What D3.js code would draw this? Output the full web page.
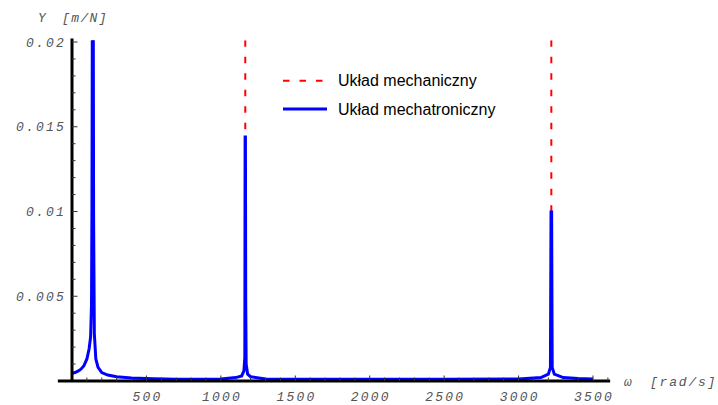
<!DOCTYPE html>
<html>
<head>
<meta charset="utf-8">
<script src="https://cdn.jsdelivr.net/npm/d3@7"></script>
<style>
  body { margin: 0; background: #fff; }
  svg { display: block; }
</style>
</head>
<body>
<div id="chart"></div>
<script>
const width = 718;
const height = 405;

// frequency axis values [rad/s]
const omega = [0, 20, 40, 60, 80, 100, 115, 125, 131, 134, 138.5, 141.5, 145, 150, 160, 175, 200, 240, 300, 400, 550, 700, 850, 1000,
  1100, 1140, 1155, 1161, 1163, 1165, 1167, 1170, 1180, 1200, 1300, 1500, 2000, 2500, 3000,
  3150, 3200, 3214, 3218, 3222, 3226, 3240, 3300, 3400, 3500];
// mechatronic system receptance Y [m/N]
const yMechatronic = [0.00045, 0.0005, 0.00058, 0.0007, 0.0009, 0.0013, 0.0019, 0.0026, 0.0045, 0.0102, 0.03, 0.03, 0.0098, 0.0028, 0.0013, 0.0008, 0.0005, 0.00035, 0.00025, 0.00018, 0.00013, 0.0001, 0.0001, 0.00012,
  0.0002, 0.0003, 0.0006, 0.0014, 0.0144, 0.0144, 0.0048, 0.001, 0.0004, 0.00025, 0.00012, 0.0001, 0.0001, 0.0001, 0.00012,
  0.0002, 0.0004, 0.0008, 0.00997, 0.00997, 0.0008, 0.0004, 0.0002, 0.00015, 0.00012];
// mechanical system (undamped) resonances: curve shoots off scale there,
// below the blue peaks it is hidden by the mechatronic curve
const mechResonances = [140, 1164, 3220];
const mechVisibleFrom = 0.006;

const xTicks = [500, 1000, 1500, 2000, 2500, 3000, 3500];
const yTicks = [0.005, 0.01, 0.015, 0.02];
const yTickLabels = ['0.005', '0.01', '0.015', '0.02'];
const legendNames = ['Układ mechaniczny', 'Układ mechatroniczny'];

const x = d3.scaleLinear().domain([0, 3500]).range([72, 593]);
const y = d3.scaleLinear().domain([0, 0.02]).range([381, 42]);

const svg = d3.select('#chart').append('svg')
  .attr('width', width)
  .attr('height', height);

svg.append('clipPath').attr('id', 'plotclip')
  .append('rect')
  .attr('x', x(-95)).attr('y', y(0.0201))
  .attr('width', x(3615) - x(-95)).attr('height', height - y(0.0201));

const plot = svg.append('g').attr('clip-path', 'url(#plotclip)');

// mechanical: vertical asymptotes at resonances
plot.selectAll('line.mech')
  .data(mechResonances)
  .join('line')
    .attr('class', 'mech')
    .attr('x1', d => x(d)).attr('x2', d => x(d))
    .attr('y1', y(0.0201)).attr('y2', y(mechVisibleFrom))
    .attr('stroke', '#ff0000')
    .attr('stroke-width', 2)
    .attr('stroke-dasharray', '6.5,10');

// axes (drawn under the blue curve)
const axisTop = y(0.0202);
svg.append('line')
  .attr('x1', x(-95)).attr('x2', x(3615))
  .attr('y1', y(0)).attr('y2', y(0))
  .attr('stroke', '#000').attr('stroke-width', 3);
svg.append('line')
  .attr('x1', x(0)).attr('x2', x(0))
  .attr('y1', axisTop).attr('y2', y(0))
  .attr('stroke', '#000').attr('stroke-width', 3);

// x ticks: minor every 100, major every 500
const xMinor = d3.range(100, 3601, 100);
svg.append('g').selectAll('line')
  .data(xMinor)
  .join('line')
    .attr('x1', d => x(d)).attr('x2', d => x(d))
    .attr('y1', y(0)).attr('y2', d => y(0) - (d % 500 === 0 ? 5.5 : 3.5))
    .attr('stroke', '#333').attr('stroke-width', 1);

const yMinor = d3.range(1, 21).map(i => i * 0.001);
svg.append('g').selectAll('line')
  .data(yMinor)
  .join('line')
    .attr('x1', x(0)).attr('x2', (d, i) => x(0) + ((i + 1) % 5 === 0 ? 5.5 : 3.5))
    .attr('y1', d => y(d)).attr('y2', d => y(d))
    .attr('stroke', '#333').attr('stroke-width', 1);

const tickFont = { family: '"Liberation Mono", "DejaVu Sans Mono", monospace', size: '13px' };

svg.append('g').selectAll('text')
  .data(xTicks)
  .join('text')
    .attr('x', d => x(d) + 1.1)
    .attr('y', 401)
    .attr('text-anchor', 'middle')
    .attr('font-family', tickFont.family)
    .attr('font-size', tickFont.size)
    .attr('font-style', 'italic')
    .attr('letter-spacing', '2.2px')
    .attr('fill', '#555')
    .text(d => d);

svg.append('g').selectAll('text')
  .data(yTicks)
  .join('text')
    .attr('x', 66)
    .attr('y', d => y(d) + 4.5)
    .attr('text-anchor', 'end')
    .attr('font-family', tickFont.family)
    .attr('font-size', tickFont.size)
    .attr('font-style', 'italic')
    .attr('letter-spacing', '2.2px')
    .attr('fill', '#555')
    .text((d, i) => yTickLabels[i]);

// axis titles
const yTitle = svg.append('text')
  .attr('y', 21.5)
  .attr('font-family', tickFont.family)
  .attr('font-size', tickFont.size)
  .attr('font-style', 'italic')
  .attr('letter-spacing', '1.4px')
  .attr('fill', '#555');
yTitle.append('tspan').attr('x', 38).text('Y');
yTitle.append('tspan').attr('x', 62).text('[m/N]');

const xTitle = svg.append('text')
  .attr('y', 386)
  .attr('font-family', tickFont.family)
  .attr('font-size', tickFont.size)
  .attr('font-style', 'italic')
  .attr('letter-spacing', '1.8px')
  .attr('fill', '#555');
xTitle.append('tspan').attr('x', 624).text('ω');
xTitle.append('tspan').attr('x', 650).text('[rad/s]');

// mechatronic response
const line = d3.line()
  .x((d, i) => x(omega[i]))
  .y(d => y(d));

plot.append('path')
  .datum(yMechatronic)
  .attr('d', line)
  .attr('fill', 'none')
  .attr('stroke', '#0000ff')
  .attr('stroke-width', 3)
  .attr('stroke-linejoin', 'miter');

// legend
const legend = svg.append('g');
const legendY = [80.7, 109];
legend.selectAll('line')
  .data(legendNames)
  .join('line')
    .attr('x1', 283).attr('x2', 327)
    .attr('y1', (d, i) => legendY[i]).attr('y2', (d, i) => legendY[i])
    .attr('stroke', (d, i) => i === 0 ? '#ff0000' : '#0000ff')
    .attr('stroke-width', (d, i) => i === 0 ? 2 : 3)
    .attr('stroke-dasharray', (d, i) => i === 0 ? '6.5,10' : null);
legend.selectAll('text')
  .data(legendNames)
  .join('text')
    .attr('x', 338)
    .attr('y', (d, i) => legendY[i] + 5.5)
    .attr('font-family', '"Liberation Sans", Arial, sans-serif')
    .attr('font-size', '16px')
    .attr('fill', '#000')
    .text(d => d);
</script>
</body>
</html>
